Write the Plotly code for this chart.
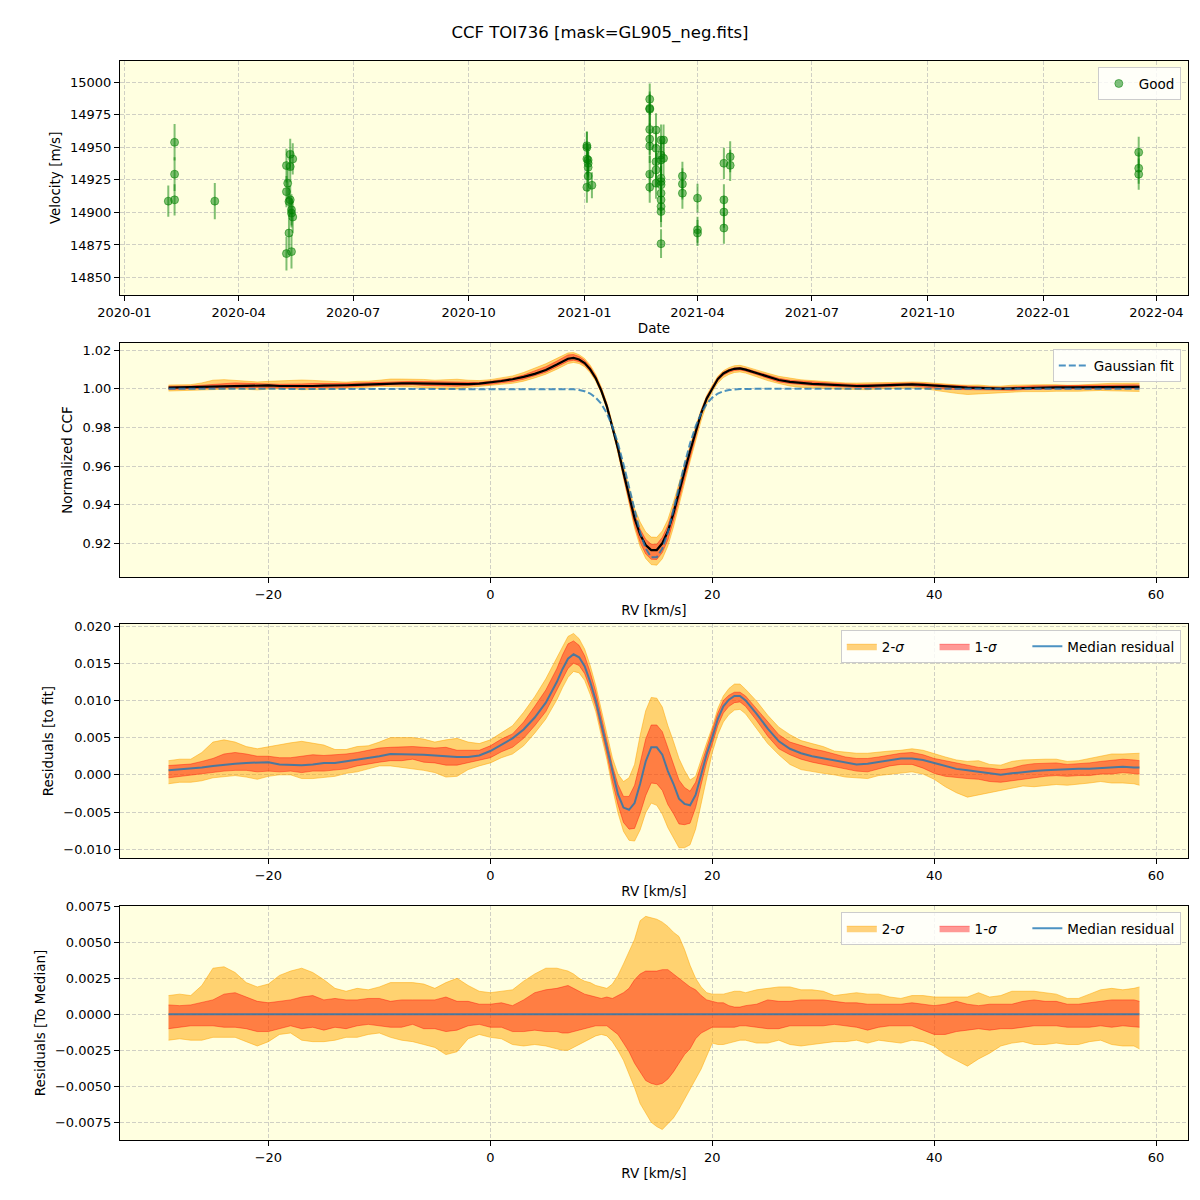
import numpy as np
import plotly.graph_objects as go

# ---------------- Panel 1: velocities ----------------
obs_dates = [
    "2020-02-05", "2020-02-10", "2020-02-10", "2020-02-10", "2020-03-13",
    "2020-05-12", "2020-05-14", "2020-05-09", "2020-05-12", "2020-05-10", "2020-05-09", "2020-05-12",
    "2020-05-11", "2020-05-13", "2020-05-13", "2020-05-14", "2020-05-11", "2020-05-09", "2020-05-13",
    "2021-01-03", "2021-01-03", "2021-01-03", "2021-01-04", "2021-01-04", "2021-01-04", "2021-01-04",
    "2021-01-03", "2021-01-07",
    "2021-02-22", "2021-02-22", "2021-02-22", "2021-02-22", "2021-02-22", "2021-02-22", "2021-02-22", "2021-02-22",
    "2021-02-27", "2021-02-27", "2021-02-27", "2021-02-27", "2021-02-27",
    "2021-03-03", "2021-03-03", "2021-03-03", "2021-03-03", "2021-03-03", "2021-03-03", "2021-03-03",
    "2021-03-03", "2021-03-03", "2021-03-03", "2021-03-03",
    "2021-03-05", "2021-03-05",
    "2021-03-20", "2021-03-20", "2021-03-20",
    "2021-04-01", "2021-04-01", "2021-04-01",
    "2021-04-22", "2021-04-22", "2021-04-22", "2021-04-22",
    "2021-04-27", "2021-04-27",
    "2022-03-18", "2022-03-18", "2022-03-18",
]
obs_vel = [
    14908.7, 14953.9, 14929.4, 14909.7, 14908.7,
    14944.7, 14941.1, 14936.0, 14935.2, 14922.5, 14916.0, 14909.7,
    14908.4, 14902.0, 14899.5, 14896.5, 14884.2, 14868.4, 14869.9,
    14951.3, 14950.0, 14941.1, 14940.3, 14937.8, 14934.7, 14928.0,
    14919.4, 14920.9,
    14987.0, 14980.0, 14979.3, 14963.8, 14956.4, 14951.0, 14929.4, 14919.4,
    14963.3, 14949.3, 14939.0, 14932.7, 14922.5,
    14955.6, 14944.1, 14940.3, 14926.3, 14923.7, 14921.2, 14914.8,
    14909.7, 14904.6, 14900.7, 14876.0,
    14955.6, 14941.6,
    14928.0, 14921.9, 14914.8,
    14911.0, 14886.7, 14884.2,
    14937.8, 14909.7, 14900.3, 14888.0,
    14942.8, 14936.2,
    14946.2, 14934.0, 14929.4,
]
obs_err = [
    12, 14, 13, 12, 14,
    12, 12, 13, 12, 12, 12, 11,
    12, 12, 11, 12, 12, 13, 13,
    11, 12, 12, 12, 11, 12, 12,
    12, 10,
    12, 13, 12, 13, 12, 13, 14, 12,
    13, 13, 14, 13, 12,
    12, 12, 13, 12, 12, 12, 12,
    11, 12, 12, 11,
    12, 13,
    11, 12, 12,
    11, 10, 10,
    12, 12, 12, 12,
    12, 12,
    12, 12, 12,
]
vel_ticks = [14850, 14875, 14900, 14925, 14950, 14975, 15000]

# ---------------- Panels 2-4: CCF ----------------
rv_grid = [-29, -28, -27, -26, -25, -24, -23, -22, -21, -20, -19, -18, -17, -16, -15, -14, -13, -12, -11, -10,
           -9, -8, -7, -6, -5, -4, -3, -2, -1, 0, 1, 2, 3, 4, 5,
           6, 6.5, 7, 7.5, 8, 8.5, 9, 9.5, 10, 10.5, 11, 11.5, 12, 12.5, 13, 13.5, 14, 14.5, 15, 15.5,
           16, 16.5, 17, 17.5, 18, 18.5, 19, 19.5, 20, 20.5, 21, 21.5, 22, 22.5, 23,
           24, 25, 26, 27, 28, 29, 30, 31, 32, 33, 34, 35, 36, 37, 38, 39, 40, 41, 42, 43, 44, 45, 46, 47, 48,
           49, 50, 51, 52, 53, 54, 55, 56, 57, 58, 58.5]

gauss_fit = [1.0] * 35 + [
    1.0000, 0.9999, 0.9999, 0.9997, 0.9993, 0.9987, 0.9975, 0.9954, 0.9922, 0.9873, 0.9805, 0.9717,
    0.9609, 0.9489, 0.9367, 0.9257, 0.9173, 0.9128, 0.9128, 0.9173, 0.9257, 0.9367, 0.9489, 0.9609,
    0.9717, 0.9805, 0.9873, 0.9922, 0.9954, 0.9975, 0.9987, 0.9993, 0.9997, 0.9999, 0.9999,
] + [1.0] * 36

resid_median = [
    0.0006, 0.0007, 0.0008, 0.0010, 0.0012, 0.0014, 0.0015, 0.0016, 0.0016, 0.0017,
    0.0014, 0.0013, 0.0013, 0.0014, 0.0016, 0.0016, 0.0018, 0.0020, 0.0022, 0.0025,
    0.0028, 0.0028, 0.0028, 0.0027, 0.0026, 0.0025, 0.0024, 0.0024, 0.0026, 0.0032,
    0.0040, 0.0049, 0.0061, 0.0077, 0.0097,
    0.0125, 0.0142, 0.0156, 0.0162, 0.0158, 0.0146, 0.0125, 0.0100, 0.0068, 0.0036,
    0.0002, -0.0026, -0.0044, -0.0047, -0.0038, -0.0012, 0.0018, 0.0037, 0.0037, 0.0027,
    0.0005, -0.0012, -0.0032, -0.0039, -0.0041, -0.0027, 0.0000, 0.0028, 0.0050, 0.0075,
    0.0092, 0.0101, 0.0106, 0.0106, 0.0100,
    0.0082, 0.0062, 0.0045, 0.0035, 0.0029, 0.0025, 0.0022, 0.0019, 0.0016, 0.0014,
    0.0015, 0.0017, 0.0020, 0.0022, 0.0022, 0.0020, 0.0016, 0.0012, 0.0008, 0.0006,
    0.0004, 0.0002, 0.0000, 0.0002, 0.0004, 0.0005, 0.0006, 0.0007, 0.0007, 0.0008,
    0.0008, 0.0009, 0.0010, 0.0011, 0.0010, 0.0010,
]

# percentile offsets relative to the median residual
sig1_lo = [
    -0.0010, -0.0009, -0.0008, -0.0008, -0.0008, -0.0009, -0.0009, -0.0010, -0.0012, -0.0012,
    -0.0010, -0.0008, -0.0010, -0.0009, -0.0011, -0.0009, -0.0010, -0.0008, -0.0007, -0.0008,
    -0.0009, -0.0009, -0.0007, -0.0010, -0.0010, -0.0012, -0.0011, -0.0008, -0.0007, -0.0009,
    -0.0009, -0.0012, -0.0012, -0.0011, -0.0012,
    -0.0012, -0.0013, -0.0013, -0.0012, -0.0011, -0.0010, -0.0009, -0.0008, -0.0008, -0.0008,
    -0.0011, -0.0014, -0.0020, -0.0026, -0.0034, -0.0040, -0.0046, -0.0048, -0.0049, -0.0048,
    -0.0045, -0.0040, -0.0034, -0.0028, -0.0024, -0.0017, -0.0013, -0.0011, -0.0009, -0.0009,
    -0.0009, -0.0009, -0.0009, -0.0008, -0.0008,
    -0.0009, -0.0010, -0.0010, -0.0008, -0.0008, -0.0008, -0.0008, -0.0007, -0.0008, -0.0009,
    -0.0011, -0.0009, -0.0008, -0.0008, -0.0008, -0.0011, -0.0014, -0.0014, -0.0012, -0.0011,
    -0.0010, -0.0011, -0.0010, -0.0010, -0.0009, -0.0008, -0.0008, -0.0008, -0.0009, -0.0009,
    -0.0009, -0.0008, -0.0009, -0.0008, -0.0009, -0.0009,
]
sig1_hi = [
    0.00065, 0.0006, 0.00065, 0.0008, 0.0010, 0.0014, 0.0015, 0.0012, 0.0009, 0.0008,
    0.0009, 0.0010, 0.0012, 0.0013, 0.0010, 0.0011, 0.0010, 0.0010, 0.0011, 0.0011,
    0.0009, 0.0010, 0.0010, 0.0010, 0.0010, 0.0012, 0.0009, 0.0009, 0.0007, 0.0007,
    0.0008, 0.0006, 0.0010, 0.0015, 0.0017,
    0.0018, 0.0019, 0.0020, 0.0018, 0.0016, 0.0014, 0.0013, 0.0012, 0.0011, 0.0012,
    0.0011, 0.0013, 0.0015, 0.0018, 0.0024, 0.0028, 0.0030, 0.0030, 0.0030, 0.0031,
    0.0031, 0.0028, 0.0025, 0.0022, 0.0019, 0.0017, 0.0013, 0.0010, 0.0009, 0.0008,
    0.0008, 0.0006, 0.0005, 0.0005, 0.0006,
    0.0007, 0.0010, 0.0009, 0.0009, 0.0010, 0.0010, 0.0010, 0.0009, 0.0008, 0.0008,
    0.0007, 0.0007, 0.0007, 0.0007, 0.0008, 0.0007, 0.0006, 0.0007, 0.0009, 0.0007,
    0.0006, 0.0007, 0.0007, 0.0007, 0.0009, 0.0010, 0.0009, 0.0009, 0.0007, 0.0007,
    0.0008, 0.0009, 0.0010, 0.0010, 0.0010, 0.0009,
]
sig2_lo = [
    -0.0018, -0.0017, -0.0018, -0.0018, -0.0016, -0.0016, -0.0016, -0.0019, -0.0022, -0.0019,
    -0.0014, -0.0013, -0.0018, -0.0019, -0.0019, -0.0018, -0.0016, -0.0016, -0.0014, -0.0013,
    -0.0016, -0.0018, -0.0019, -0.0021, -0.0023, -0.0028, -0.0026, -0.0017, -0.0014, -0.0016,
    -0.0017, -0.0021, -0.0022, -0.0021, -0.0022,
    -0.0024, -0.0025, -0.0025, -0.0023, -0.0021, -0.0019, -0.0017, -0.0015, -0.0014, -0.0015,
    -0.0019, -0.0025, -0.0032, -0.0041, -0.0051, -0.0062, -0.0069, -0.0075, -0.0078, -0.0080,
    -0.0076, -0.0072, -0.0066, -0.0059, -0.0053, -0.0046, -0.0038, -0.0029, -0.0020, -0.0021,
    -0.0021, -0.0020, -0.0019, -0.0018, -0.0018,
    -0.0020, -0.0020, -0.0018, -0.0021, -0.0022, -0.0021, -0.0020, -0.0019, -0.0019, -0.0018,
    -0.0020, -0.0018, -0.0019, -0.0020, -0.0018, -0.0019, -0.0022, -0.0028, -0.0032, -0.0036,
    -0.0031, -0.0027, -0.0022, -0.0020, -0.0019, -0.0021, -0.0021, -0.0020, -0.0021, -0.0021,
    -0.0019, -0.0018, -0.0021, -0.0022, -0.0022, -0.0024,
]
sig2_hi = [
    0.0013, 0.0014, 0.0013, 0.0020, 0.0032, 0.0033, 0.0029, 0.0022, 0.0019, 0.0021,
    0.0027, 0.0030, 0.0032, 0.0029, 0.0024, 0.0018, 0.0016, 0.0018, 0.0017, 0.0019,
    0.0022, 0.0022, 0.0022, 0.0021, 0.0018, 0.0022, 0.0025, 0.0020, 0.0016, 0.0015,
    0.0016, 0.0017, 0.0023, 0.0028, 0.0032,
    0.0032, 0.0031, 0.0030, 0.0028, 0.0025, 0.0023, 0.0022, 0.0020, 0.0019, 0.0018,
    0.0021, 0.0027, 0.0035, 0.0043, 0.0052, 0.0065, 0.0068, 0.0067, 0.0066, 0.0064,
    0.0061, 0.0057, 0.0054, 0.0045, 0.0034, 0.0025, 0.0019, 0.0015, 0.0014, 0.0014,
    0.0014, 0.0015, 0.0016, 0.0016, 0.0015,
    0.0017, 0.0018, 0.0019, 0.0019, 0.0017, 0.0017, 0.0016, 0.0013, 0.0014, 0.0015,
    0.0014, 0.0014, 0.0012, 0.0011, 0.0013, 0.0013, 0.0012, 0.0012, 0.0012, 0.0012,
    0.0015, 0.0012, 0.0013, 0.0016, 0.0016, 0.0016, 0.0015, 0.0014, 0.0011, 0.0011,
    0.0014, 0.0017, 0.0018, 0.0017, 0.0018, 0.0019,
]

rv = np.array(rv_grid, dtype=float)
g = np.array(gauss_fit)
m = np.array(resid_median)
s1l, s1h = np.array(sig1_lo), np.array(sig1_hi)
s2l, s2h = np.array(sig2_lo), np.array(sig2_hi)

ORANGE = "rgba(255,165,0,0.5)"
RED = "rgba(255,0,0,0.4)"
BLUE = "rgba(31,119,180,0.8)"
FONT = "DejaVu Sans"
PAD = "\u00a0" * 6

fig = go.Figure()

# Panel 1
fig.add_trace(go.Scatter(
    x=obs_dates, y=obs_vel, mode="markers", name="Good",
    marker=dict(color="rgba(0,128,0,0.5)", size=8, line=dict(color="rgba(0,128,0,0.5)", width=1)),
    error_y=dict(type="data", array=obs_err, color="rgba(0,128,0,0.5)", thickness=2, width=0),
    xaxis="x", yaxis="y", legend="legend"))


def bands(base, xa, ya, leg, show):
    fig.add_trace(go.Scatter(x=rv, y=base + s2l, mode="lines", line=dict(color=ORANGE, width=1),
                             showlegend=False, xaxis=xa, yaxis=ya, hoverinfo="skip"))
    fig.add_trace(go.Scatter(x=rv, y=base + s2h, mode="lines", line=dict(color=ORANGE, width=1),
                             fill="tonexty", fillcolor=ORANGE, name="2-<i>σ</i>" + PAD, showlegend=show,
                             xaxis=xa, yaxis=ya, legend=leg))
    fig.add_trace(go.Scatter(x=rv, y=base + s1l, mode="lines", line=dict(color=RED, width=1),
                             showlegend=False, xaxis=xa, yaxis=ya, hoverinfo="skip"))
    fig.add_trace(go.Scatter(x=rv, y=base + s1h, mode="lines", line=dict(color=RED, width=1),
                             fill="tonexty", fillcolor=RED, name="1-<i>σ</i>" + PAD, showlegend=show,
                             xaxis=xa, yaxis=ya, legend=leg))


# Panel 2
ccf_med = g + m
bands(ccf_med, "x2", "y2", "legend2", False)
fig.add_trace(go.Scatter(x=rv, y=ccf_med, mode="lines", line=dict(color="black", width=2.2),
                         showlegend=False, xaxis="x2", yaxis="y2"))
fig.add_trace(go.Scatter(x=rv, y=g, mode="lines", line=dict(color=BLUE, width=2, dash="7px,3px"),
                         name="Gaussian fit", xaxis="x2", yaxis="y2", legend="legend2"))

# Panel 3
bands(m, "x3", "y3", "legend3", True)
fig.add_trace(go.Scatter(x=rv, y=m, mode="lines", line=dict(color=BLUE, width=2),
                         name="Median residual", xaxis="x3", yaxis="y3", legend="legend3"))

# Panel 4
zero = m - m
bands(zero, "x4", "y4", "legend4", True)
fig.add_trace(go.Scatter(x=rv, y=zero, mode="lines", line=dict(color=BLUE, width=2),
                         name="Median residual", xaxis="x4", yaxis="y4", legend="legend4"))


def axstyle(**kw):
    d = dict(showline=True, mirror=True, linecolor="black", linewidth=1.1, automargin=False,
             ticks="outside", ticklen=5, tickwidth=1.1, tickcolor="black",
             showgrid=True, gridcolor="rgba(176,176,176,0.6)", griddash="4px,2px", gridwidth=1,
             zeroline=False, tickfont=dict(family=FONT, size=13, color="black"),
             title_font=dict(family=FONT, size=13.5, color="black"))
    d.update(kw)
    return d


XD = [0.1, 0.99]
rvticks = dict(tickmode="array", tickvals=[-20, 0, 20, 40, 60], ticktext=["−20", "0", "20", "40", "60"])
RVR = [-33.375, 62.875]

legstyle = dict(xanchor="right", yanchor="top", bgcolor="rgba(255,255,255,0.8)", traceorder="normal",
                bordercolor="#cccccc", borderwidth=1, font=dict(family=FONT, size=13.5, color="black"))

fig.update_layout(
    width=1200, height=1200,
    margin=dict(l=0, r=0, t=0, b=0),
    paper_bgcolor="white", plot_bgcolor="#FFFFE0",
    font=dict(family=FONT, size=13, color="black"),
    title=dict(text="CCF TOI736 [mask=GL905_neg.fits]", x=0.5, xanchor="center", y=0.973, yanchor="middle",
               font=dict(family=FONT, size=16.5, color="black")),
    xaxis=axstyle(domain=XD, anchor="y", type="date", range=["2019-12-28 14:00", "2022-04-26 05:00"],
                  tick0="2020-01-01", dtick="M3", tickformat="%Y-%m",
                  title=dict(text="Date", standoff=4)),
    yaxis=axstyle(domain=[0.7542, 0.9494], anchor="x", range=[14836.6, 15016.6],
                  tickmode="array", tickvals=vel_ticks, ticktext=[str(v) for v in vel_ticks],
                  title=dict(text="Velocity [m/s]", standoff=6)),
    xaxis2=axstyle(domain=XD, anchor="y2", range=RVR, title=dict(text="RV [km/s]", standoff=4), **rvticks),
    yaxis2=axstyle(domain=[0.5189, 0.7144], anchor="x2", range=[0.9024, 1.0238],
                   tickmode="array", tickvals=[0.92, 0.94, 0.96, 0.98, 1.00, 1.02],
                   ticktext=["0.92", "0.94", "0.96", "0.98", "1.00", "1.02"],
                   title=dict(text="Normalized CCF", standoff=6)),
    xaxis3=axstyle(domain=XD, anchor="y3", range=RVR, title=dict(text="RV [km/s]", standoff=4), **rvticks),
    yaxis3=axstyle(domain=[0.2848, 0.48], anchor="x3", range=[-0.01121, 0.02027],
                   tickmode="array", tickvals=[-0.010, -0.005, 0.0, 0.005, 0.010, 0.015, 0.020],
                   ticktext=["−0.010", "−0.005", "0.000", "0.005", "0.010", "0.015", "0.020"],
                   title=dict(text="Residuals [to fit]", standoff=6)),
    xaxis4=axstyle(domain=XD, anchor="y4", range=RVR, title=dict(text="RV [km/s]", standoff=4), **rvticks),
    yaxis4=axstyle(domain=[0.05, 0.245], anchor="x4", range=[-0.00873, 0.00752],
                   tickmode="array", tickvals=[-0.0075, -0.005, -0.0025, 0.0, 0.0025, 0.005, 0.0075],
                   ticktext=["−0.0075", "−0.0050", "−0.0025", "0.0000", "0.0025", "0.0050", "0.0075"],
                   title=dict(text="Residuals [To Median]", standoff=6)),
    legend=dict(x=0.984, y=0.944, **legstyle),
    legend2=dict(x=0.984, y=0.709, **legstyle),
    legend3=dict(x=0.984, y=0.475, orientation="h", **legstyle),
    legend4=dict(x=0.984, y=0.24, orientation="h", **legstyle),
)

fig.write_html("out.html")
